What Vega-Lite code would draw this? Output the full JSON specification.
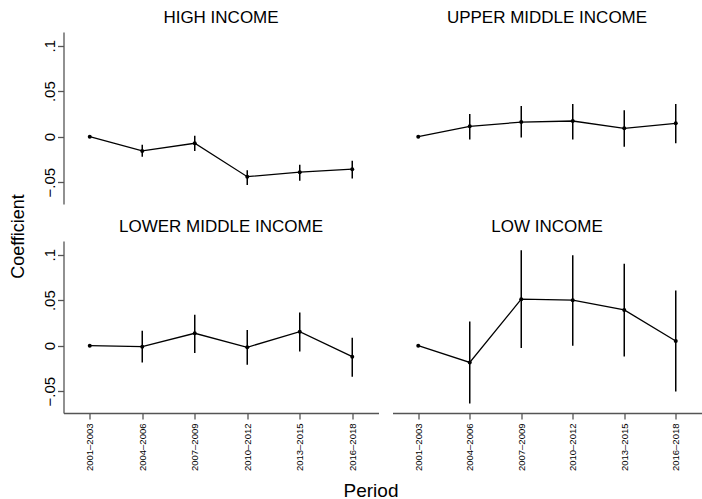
{
  "$schema": "https://vega.github.io/schema/vega-lite/v6.json",
  "padding": {"left": 8.5, "top": 9, "right": 0, "bottom": 0},
  "background": "white",
  "config": {
    "font": "Liberation Sans",
    "view": {"stroke": null},
    "title": {"fontSize": 17, "fontWeight": "normal", "color": "black", "baseline": "bottom", "offset": 5, "font": "Liberation Sans"},
    "axis": {"domainColor": "#555", "domainWidth": 1.3, "tickColor": "#555", "tickWidth": 1.3, "tickSize": 6, "grid": false, "labelColor": "black", "titleColor": "black", "labelFont": "Liberation Sans", "titleFont": "Liberation Sans", "titleFontWeight": "normal"}
  },
  "data": {"values": [
    {"group": "HIGH INCOME", "period": "2001–2003", "coef": 0, "lo": 0, "hi": 0},
    {"group": "HIGH INCOME", "period": "2004–2006", "coef": -0.0157, "lo": -0.022, "hi": -0.009},
    {"group": "HIGH INCOME", "period": "2007–2009", "coef": -0.0073, "lo": -0.0157, "hi": 0.001},
    {"group": "HIGH INCOME", "period": "2010–2012", "coef": -0.044, "lo": -0.053, "hi": -0.037},
    {"group": "HIGH INCOME", "period": "2013–2015", "coef": -0.039, "lo": -0.0485, "hi": -0.031},
    {"group": "HIGH INCOME", "period": "2016–2018", "coef": -0.0357, "lo": -0.046, "hi": -0.0266},
    {"group": "UPPER MIDDLE INCOME", "period": "2001–2003", "coef": 0, "lo": 0, "hi": 0},
    {"group": "UPPER MIDDLE INCOME", "period": "2004–2006", "coef": 0.0113, "lo": -0.003, "hi": 0.025},
    {"group": "UPPER MIDDLE INCOME", "period": "2007–2009", "coef": 0.016, "lo": -0.001, "hi": 0.0336},
    {"group": "UPPER MIDDLE INCOME", "period": "2010–2012", "coef": 0.0172, "lo": -0.003, "hi": 0.036},
    {"group": "UPPER MIDDLE INCOME", "period": "2013–2015", "coef": 0.0092, "lo": -0.011, "hi": 0.029},
    {"group": "UPPER MIDDLE INCOME", "period": "2016–2018", "coef": 0.0146, "lo": -0.0073, "hi": 0.036},
    {"group": "LOWER MIDDLE INCOME", "period": "2001–2003", "coef": 0, "lo": 0, "hi": 0},
    {"group": "LOWER MIDDLE INCOME", "period": "2004–2006", "coef": -0.0011, "lo": -0.0184, "hi": 0.0165},
    {"group": "LOWER MIDDLE INCOME", "period": "2007–2009", "coef": 0.0136, "lo": -0.0081, "hi": 0.034},
    {"group": "LOWER MIDDLE INCOME", "period": "2010–2012", "coef": -0.0018, "lo": -0.021, "hi": 0.0173},
    {"group": "LOWER MIDDLE INCOME", "period": "2013–2015", "coef": 0.0154, "lo": -0.0063, "hi": 0.0364},
    {"group": "LOWER MIDDLE INCOME", "period": "2016–2018", "coef": -0.0121, "lo": -0.0342, "hi": 0.0088},
    {"group": "LOW INCOME", "period": "2001–2003", "coef": 0, "lo": 0, "hi": 0},
    {"group": "LOW INCOME", "period": "2004–2006", "coef": -0.0184, "lo": -0.0636, "hi": 0.0265},
    {"group": "LOW INCOME", "period": "2007–2009", "coef": 0.0511, "lo": -0.0026, "hi": 0.1048},
    {"group": "LOW INCOME", "period": "2010–2012", "coef": 0.05, "lo": 0, "hi": 0.0993},
    {"group": "LOW INCOME", "period": "2013–2015", "coef": 0.0393, "lo": -0.0118, "hi": 0.09},
    {"group": "LOW INCOME", "period": "2016–2018", "coef": 0.0051, "lo": -0.0504, "hi": 0.0607}
  ]},
  "bounds": "flush",
  "columns": 2,
  "spacing": {"row": 37, "column": 14},
  "concat": [
    {
      "title": "HIGH INCOME",
      "width": 315, "height": 172,
      "transform": [{"filter": "datum.group === 'HIGH INCOME'"}],
      "encoding": {
        "x": {"field": "period", "type": "ordinal", "scale": {"type": "point", "padding": 0.5}, "axis": null},
        "y": {"field": "coef", "type": "quantitative", "scale": {"domain": [-0.074, 0.115], "nice": false, "zero": false},
              "axis": {"values": [-0.05, 0, 0.05, 0.1], "labelExpr": "datum.value == 0 ? '0' : replace(format(datum.value, '.2~f'), '0.', '.')", "labelAngle": 270, "labelAlign": "center", "labelBaseline": "alphabetic", "labelPadding": 3, "labelFontSize": 15,
                       "title": "Coefficient", "titleFontSize": 18, "titleAngle": 270, "titleX": -40.5, "titleY": 204, "titleBaseline": "alphabetic", "titleAlign": "center"}}
      },
      "layer": [
        {"mark": {"type": "rule", "color": "black", "strokeWidth": 1.5}, "encoding": {"y": {"field": "lo", "type": "quantitative"}, "y2": {"field": "hi"}}},
        {"mark": {"type": "line", "color": "black", "strokeWidth": 1.3}},
        {"mark": {"type": "point", "filled": true, "color": "black", "size": 16, "opacity": 1}}
      ]
    },
    {
      "title": "UPPER MIDDLE INCOME",
      "width": 309, "height": 172,
      "transform": [{"filter": "datum.group === 'UPPER MIDDLE INCOME'"}],
      "encoding": {
        "x": {"field": "period", "type": "ordinal", "scale": {"type": "point", "padding": 0.5}, "axis": null},
        "y": {"field": "coef", "type": "quantitative", "scale": {"domain": [-0.074, 0.115], "nice": false, "zero": false}, "axis": null}
      },
      "layer": [
        {"mark": {"type": "rule", "color": "black", "strokeWidth": 1.5}, "encoding": {"y": {"field": "lo", "type": "quantitative"}, "y2": {"field": "hi"}}},
        {"mark": {"type": "line", "color": "black", "strokeWidth": 1.3}},
        {"mark": {"type": "point", "filled": true, "color": "black", "size": 16, "opacity": 1}}
      ]
    },
    {
      "title": "LOWER MIDDLE INCOME",
      "width": 315, "height": 172,
      "transform": [{"filter": "datum.group === 'LOWER MIDDLE INCOME'"}],
      "encoding": {
        "x": {"field": "period", "type": "ordinal", "scale": {"type": "point", "padding": 0.5},
              "axis": {"labelAngle": 270, "labelFontSize": 9.5, "labelPadding": 4, "title": "Period", "titleFontSize": 19, "titleX": 307, "titleY": 83, "titleBaseline": "alphabetic", "titleAlign": "center"}},
        "y": {"field": "coef", "type": "quantitative", "scale": {"domain": [-0.074, 0.115], "nice": false, "zero": false},
              "axis": {"values": [-0.05, 0, 0.05, 0.1], "labelExpr": "datum.value == 0 ? '0' : replace(format(datum.value, '.2~f'), '0.', '.')", "labelAngle": 270, "labelAlign": "center", "labelBaseline": "alphabetic", "labelPadding": 3, "labelFontSize": 15, "title": null}}
      },
      "layer": [
        {"mark": {"type": "rule", "color": "black", "strokeWidth": 1.5}, "encoding": {"y": {"field": "lo", "type": "quantitative"}, "y2": {"field": "hi"}}},
        {"mark": {"type": "line", "color": "black", "strokeWidth": 1.3}},
        {"mark": {"type": "point", "filled": true, "color": "black", "size": 16, "opacity": 1}}
      ]
    },
    {
      "title": "LOW INCOME",
      "width": 309, "height": 172,
      "transform": [{"filter": "datum.group === 'LOW INCOME'"}],
      "encoding": {
        "x": {"field": "period", "type": "ordinal", "scale": {"type": "point", "padding": 0.5},
              "axis": {"labelAngle": 270, "labelFontSize": 9.5, "labelPadding": 4, "title": null}},
        "y": {"field": "coef", "type": "quantitative", "scale": {"domain": [-0.074, 0.115], "nice": false, "zero": false}, "axis": null}
      },
      "layer": [
        {"mark": {"type": "rule", "color": "black", "strokeWidth": 1.5}, "encoding": {"y": {"field": "lo", "type": "quantitative"}, "y2": {"field": "hi"}}},
        {"mark": {"type": "line", "color": "black", "strokeWidth": 1.3}},
        {"mark": {"type": "point", "filled": true, "color": "black", "size": 16, "opacity": 1}}
      ]
    }
  ]
}
